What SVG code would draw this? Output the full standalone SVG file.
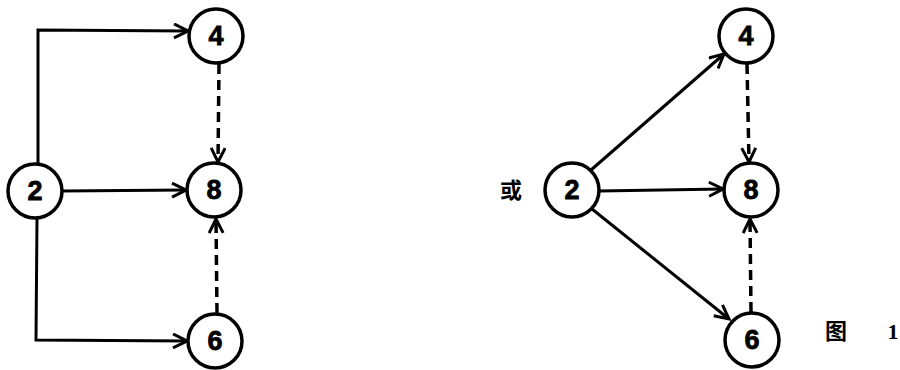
<svg xmlns="http://www.w3.org/2000/svg" width="900" height="370" viewBox="0 0 900 370">
  <style>
    .node circle { fill: #fff; stroke: #000; stroke-width: 3.5; }
    .node text { font-family: "Liberation Sans", Arial, sans-serif; font-weight: bold; font-size: 27px; text-anchor: middle; fill: #000; stroke: #000; stroke-width: 0.8; }
    .solid { fill: none; stroke: #000; stroke-width: 3; marker-end: url(#arrow); }
    .dash { fill: none; stroke: #000; stroke-width: 3.5; stroke-dasharray: 10 6; marker-end: url(#arrow); }
    .cjk { font-family: "Liberation Serif", "Noto Sans CJK SC", serif; font-weight: bold; font-size: 22px; fill: #000; text-anchor: middle; }
  </style>
  <defs>
    <marker id="arrow" markerUnits="userSpaceOnUse" markerWidth="18" markerHeight="18" refX="15" refY="8" orient="auto">
      <path d="M1,1 L15,8 L1,15" fill="none" stroke="#000" stroke-width="3"/>
    </marker>
  </defs>
  <rect width="900" height="370" fill="#fff"/>

  <!-- connectors -->
  <g id="connectors">
    <!-- left network: orthogonal routing -->
    <path class="solid" d="M38,163 L38,30 L188,31"/>
    <path class="solid" d="M62,191 L186,190"/>
    <path class="solid" d="M37,218 L36,340 L187,341"/>
    <path class="dash" d="M219,64 L218,162"/>
    <path class="dash" d="M217,313 L216,219"/>
    <!-- right network: straight routing -->
    <path class="solid" d="M591,170 L724,54"/>
    <path class="solid" d="M599,191 L723,189"/>
    <path class="solid" d="M592,209 L729,319"/>
    <path class="dash" d="M747,64 L749,162"/>
    <path class="dash" d="M751,312 L750,219"/>
  </g>

  <!-- left network nodes -->
  <g id="L2" class="node"><circle cx="35" cy="191" r="27"/><text x="35" y="200">2</text></g>
  <g id="L4" class="node"><circle cx="216" cy="36" r="27"/><text x="216" y="45">4</text></g>
  <g id="L8" class="node"><circle cx="214" cy="190" r="27"/><text x="214" y="199">8</text></g>
  <g id="L6" class="node"><circle cx="215" cy="341" r="27"/><text x="215" y="350">6</text></g>

  <text class="cjk" x="511" y="198">或</text>

  <!-- right network nodes -->
  <g id="R2" class="node"><circle cx="572" cy="190" r="27"/><text x="572" y="199">2</text></g>
  <g id="R4" class="node"><circle cx="746" cy="36" r="27"/><text x="746" y="45">4</text></g>
  <g id="R8" class="node"><circle cx="751" cy="190" r="27"/><text x="751" y="199">8</text></g>
  <g id="R6" class="node"><circle cx="752" cy="340" r="27"/><text x="752" y="349">6</text></g>

  <text class="cjk" x="836" y="339">图</text>
  <text class="cjk" x="893" y="339">1</text>
</svg>
